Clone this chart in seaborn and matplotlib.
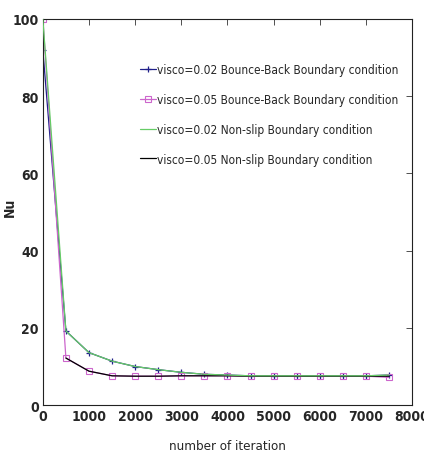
import matplotlib
matplotlib.use("Agg")
import matplotlib.pyplot as plt
import seaborn as sns
import pandas as pd
import numpy as np
from matplotlib.font_manager import FontProperties

sns.set_theme(style="white")
plt.rcParams['font.family'] = ['DejaVu Sans']
plt.rcParams['font.stretch'] = 'condensed'

iterations = [0, 500, 1000, 1500, 2000, 2500, 3000, 3500, 4000, 4500, 5000, 5500, 6000, 6500, 7000, 7500]
bb_002 = [92, 19.2, 13.6, 11.4, 10.0, 9.2, 8.5, 8.0, 7.8, 7.6, 7.6, 7.6, 7.6, 7.6, 7.6, 7.8]
bb_005 = [100, 12.2, 8.8, 7.6, 7.5, 7.5, 7.6, 7.6, 7.6, 7.5, 7.5, 7.5, 7.5, 7.5, 7.5, 7.2]
ns_002 = [100, 19.2, 13.6, 11.4, 10.0, 9.2, 8.5, 8.0, 7.8, 7.6, 7.6, 7.6, 7.6, 7.6, 7.6, 7.8]
ns_005 = [np.nan, 12.2, 8.8, 7.6, 7.5, 7.5, 7.6, 7.6, 7.6, 7.5, 7.5, 7.5, 7.5, 7.5, 7.5, 7.5]
labels = ["visco=0.02 Bounce-Back Boundary condition",
          "visco=0.05 Bounce-Back Boundary condition",
          "visco=0.02 Non-slip Boundary condition",
          "visco=0.05 Non-slip Boundary condition"]
xticks = [0, 1000, 2000, 3000, 4000, 5000, 6000, 7000, 8000]
yticks = [0, 20, 40, 60, 80, 100]

fig = plt.figure(figsize=(4.24, 4.6), dpi=100)
ax = fig.add_axes([0.101, 0.117, 0.871, 0.840])

series = [bb_002, bb_005, ns_002, ns_005]
colors = ["#20208a", "#cc66cc", "#66cc66", "#000000"]
zorders = [2, 2, 4, 3]
for i, (vals, lab, c, zz) in enumerate(zip(series, labels, colors, zorders)):
    df = pd.DataFrame({"x": iterations, "y": vals}).dropna()
    kw = {}
    if i == 0:
        kw = dict(marker="+", markersize=5, markeredgewidth=0.9,
                  markeredgecolor=c, markerfacecolor=c)
    elif i == 1:
        kw = dict(marker="s", markersize=4, markeredgewidth=0.8,
                  markerfacecolor="none", markeredgecolor=c)
    sns.lineplot(data=df, x="x", y="y", ax=ax, color=c, linewidth=0.9,
                 label=lab, zorder=zz, **kw)

ax.set_xlim(0, 8000)
ax.set_ylim(0, 100)
ax.set_xticks(xticks)
ax.set_yticks(yticks)
ax.tick_params(direction="in", length=4, width=0.6, top=True, right=True,
               labelsize=10, pad=3, color="#333333")
for t in ax.get_xticklabels() + ax.get_yticklabels():
    t.set_fontweight("bold")
for s in ax.spines.values():
    s.set_linewidth(0.8)
    s.set_color("#222222")
ax.set_xlabel("number of iteration", fontsize=9.5, labelpad=11)
ax.set_ylabel("Nu", fontsize=10, fontweight="bold")
ax.yaxis.set_label_coords(-0.07, 0.515)

leg = ax.legend(loc="upper right", bbox_to_anchor=(0.975, 0.897), frameon=False,
                prop=FontProperties(family="DejaVu Sans", stretch="condensed", size=8.6),
                handlelength=1.3, handletextpad=0.1, numpoints=1,
                labelspacing=1.4, borderaxespad=0)

fig.savefig("out.png", dpi=100)
